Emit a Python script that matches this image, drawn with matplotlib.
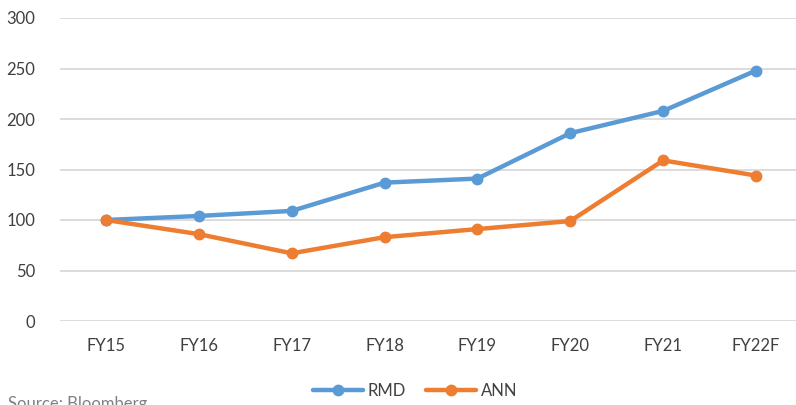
import matplotlib
matplotlib.use("Agg")
from matplotlib import pyplot as plt

# data
years = ["FY15", "FY16", "FY17", "FY18", "FY19", "FY20", "FY21", "FY22F"]
rmd = [100, 104, 109, 137, 141, 186, 208, 248]
ann = [100, 86, 67, 83, 91, 99, 159, 144]

blue = "#5B9BD5"
orange = "#ED7D31"
txt = "#595959"

plt.rcParams['font.family'] = ['Lato', 'DejaVu Sans']

fig = plt.figure(figsize=(7.96, 4.05), dpi=100)
ax = fig.add_axes([60 / 796, 1 - 321 / 405, 736 / 796, 303 / 405])

x = list(range(len(years)))
ax.plot(x, rmd, color=blue, lw=3.2, marker="o", ms=7.5, label="RMD", solid_capstyle="round")
ax.plot(x, ann, color=orange, lw=3.2, marker="o", ms=7.5, label="ANN", solid_capstyle="round")

ax.set_ylim(0, 300)
ax.set_yticks(range(0, 301, 50))
ax.set_xlim(-0.495, 7.43)
ax.set_xticks(x)
ax.set_xticklabels(years)
ax.grid(axis="y", color="#D9D9D9", lw=1.3)
ax.set_axisbelow(True)
for s in ax.spines.values():
    s.set_visible(False)
ax.tick_params(length=0, labelsize=12, colors=txt, labelcolor="#404040")
ax.tick_params(axis="y", pad=18)
ax.tick_params(axis="x", pad=12)

fig.legend(loc="center", bbox_to_anchor=(415 / 796, 1 - 391 / 405), ncol=2, frameon=False,
           fontsize=12, handlelength=3, columnspacing=1.2, handletextpad=0.3,
           labelcolor="#404040")

fig.text(8 / 796, 1 - 404 / 405, "Source: Bloomberg", fontsize=12, color="#808080", va="center")

fig.savefig("out.png", dpi=100)
